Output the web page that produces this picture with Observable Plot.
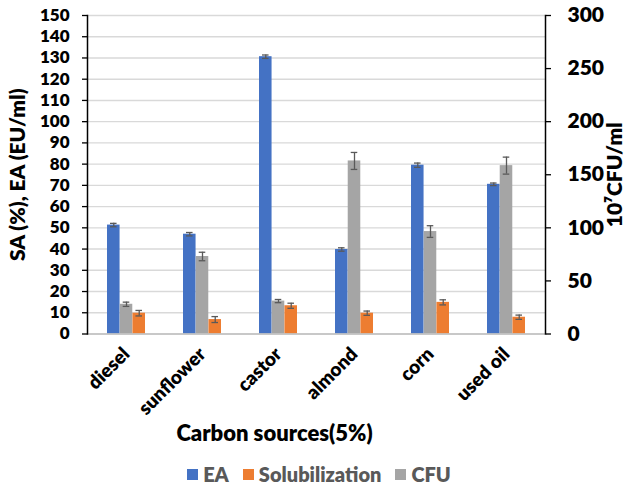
<!DOCTYPE html>
<html><head><meta charset="utf-8">
<script src="https://cdn.jsdelivr.net/npm/d3@7"></script>
<script src="https://cdn.jsdelivr.net/npm/@observablehq/plot@0.6"></script>
<style>
body{margin:0;background:#fff;font-family:Lato,"Open Sans",sans-serif;}
#chart{width:638px;}
.legend{display:flex;justify-content:center;align-items:center;gap:14px;font:800 20px Lato,sans-serif;color:#595959;height:24px;margin-top:7px;}
.legend span.item{display:flex;align-items:center;gap:5px;}
.legend i{display:inline-block;width:11px;height:11px;}
</style></head><body><div id="chart"></div>
<script>
const categories = ["diesel","sunflower","castor","almond","corn","used oil"];
const eaValues  = [51.3, 47.0, 130.6, 39.8, 79.5, 70.5];
const eaErrors  = [0.8, 0.8, 0.8, 0.8, 1.0, 0.6];
const solValues = [9.8, 6.8, 13.3, 9.8, 14.9, 7.9];
const solErrors = [1.3, 1.4, 1.2, 1.0, 1.2, 1.0];
const cfuValues = [28, 73, 31, 163, 96.5, 158.6];   // 10^7 CFU/ml (right axis)
const cfuErrors = [2, 4, 1.5, 8, 5.5, 8];
const leftTicks = d3.range(0, 151, 10);
const rightTicks = [0, 50, 100, 150, 200, 250, 300];
const seriesOrder = ["EA", "CFU", "Solubilization"];
const legendOrder = ["EA", "Solubilization", "CFU"];
const colors = {EA: "#4472C4", Solubilization: "#ED7D31", CFU: "#A5A5A5"};

const W = 638, H = 455, ml = 87, mr = 93, mt = 15, mb = H - 333.5;
const step = (W - ml - mr) / 6, bw = step * 0.5, slot = bw / 3;
const FW = 800;

const rows = categories.flatMap((c, i) => [
  {cat: c, s: "EA", y: eaValues[i], e: eaErrors[i]},
  {cat: c, s: "CFU", y: cfuValues[i] / 2, e: cfuErrors[i] / 2},
  {cat: c, s: "Solubilization", y: solValues[i], e: solErrors[i]}
]);

const marks = [
  Plot.gridY(leftTicks, {stroke: "#D9D9D9", strokeOpacity: 1, strokeWidth: 1.4})
];
seriesOrder.forEach((s, k) => {
  const d = rows.filter(r => r.s === s);
  marks.push(Plot.barY(d, {x: "cat", y: "y", fill: colors[s], insetLeft: k * slot, insetRight: (2 - k) * slot}));
  marks.push(Plot.ruleX(d, {x: "cat", y1: r => r.y - r.e, y2: r => r.y + r.e, dx: (k - 1) * slot, stroke: "#595959", strokeWidth: 1.3}));
  marks.push(Plot.tickY(d, {x: "cat", y: r => r.y + r.e, insetLeft: k * slot + 3, insetRight: (2 - k) * slot + 3, stroke: "#595959", strokeWidth: 1.3}));
  marks.push(Plot.tickY(d, {x: "cat", y: r => r.y - r.e, insetLeft: k * slot + 3, insetRight: (2 - k) * slot + 3, stroke: "#595959", strokeWidth: 1.3}));
});
marks.push(
  Plot.ruleY([0], {stroke: "#BFBFBF", strokeWidth: 1.5}),
  Plot.frame({anchor: "left", stroke: "black", strokeWidth: 1.5}),
  Plot.frame({anchor: "right", stroke: "black", strokeWidth: 1.5}),
  Plot.axisX({tickRotate: -45, tickSize: 0, tickPadding: 17, fontSize: 19, fontWeight: FW, fill: "black", label: null}),
  Plot.axisY({anchor: "left", ticks: leftTicks, tickSize: 5, tickPadding: 13, fontSize: 17, fontWeight: FW, fill: "black", stroke: "black", strokeWidth: 1.3, label: null}),
  Plot.axisY({anchor: "right", ticks: rightTicks.map(v => v / 2), tickFormat: v => String(v * 2), tickSize: 5, tickPadding: 17, fontSize: 21, fontWeight: FW, fill: "black", stroke: "black", strokeWidth: 1.3, label: null}),
  Plot.text(["SA (%), EA (EU/ml)"], {text: d => d, frameAnchor: "left", textAnchor: "middle", rotate: -90, dx: -69, fontSize: 21, fontWeight: FW, fill: "black"}),
  Plot.text(["10⁷CFU/ml"], {text: d => d, frameAnchor: "right", textAnchor: "middle", rotate: -90, dx: 70, fontSize: 21, fontWeight: FW, fill: "black"}),
  Plot.text(["Carbon sources(5%)"], {text: d => d, frameAnchor: "bottom", dx: -42, dy: 107, fontSize: 22, fontWeight: FW, fill: "black"})
);

const chart = Plot.plot({
  width: W, height: H,
  marginLeft: ml, marginRight: mr, marginTop: mt, marginBottom: mb,
  style: {fontFamily: "Lato, sans-serif", background: "white", overflow: "visible"},
  x: {domain: categories, paddingInner: 0.5, paddingOuter: 0.25, axis: null},
  y: {domain: [0, 150], axis: null},
  marks
});
const root = document.getElementById("chart");
root.appendChild(chart);
const legend = document.createElement("div");
legend.className = "legend";
legendOrder.forEach(s => {
  const it = document.createElement("span");
  it.className = "item";
  const sw = document.createElement("i");
  sw.style.background = colors[s];
  it.appendChild(sw);
  it.appendChild(document.createTextNode(s));
  legend.appendChild(it);
});
root.appendChild(legend);
</script>
</body></html>
